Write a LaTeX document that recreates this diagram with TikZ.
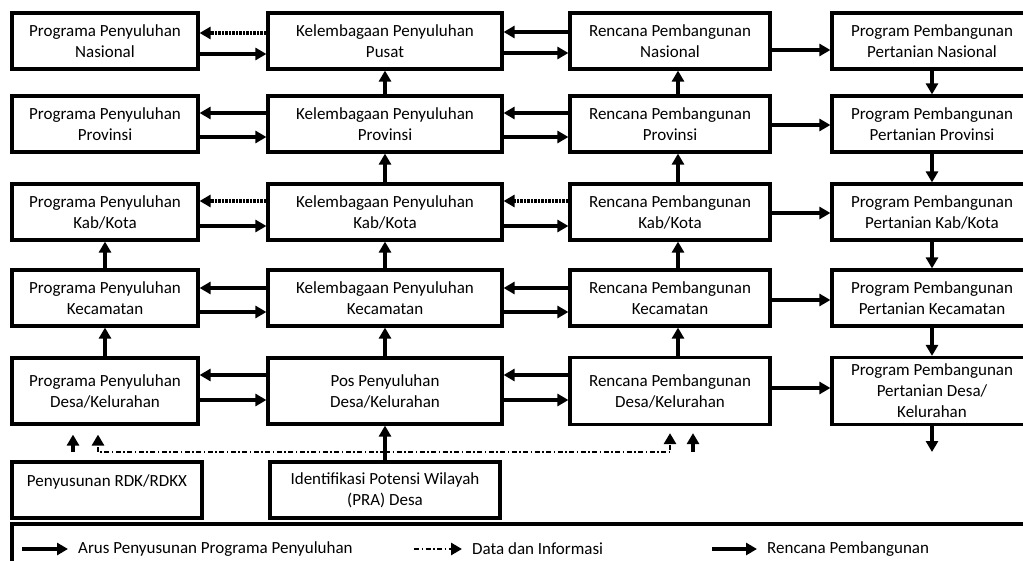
\documentclass[tikz,border=0pt]{standalone}
\usepackage{fontspec}
\setmainfont{Carlito}
\usetikzlibrary{arrows.meta}
\begin{document}
\begin{tikzpicture}[x=1pt, y=-1pt,
  >={Triangle[length=11pt,width=12pt]},
  every node/.style={font=\fontsize{17}{21}\selectfont},
  box/.style={draw, line width=3.2pt, align=center, inner sep=2pt, minimum width=#1, minimum height=56pt},
  flow/.style={->, line width=3.2pt},
  dotflow/.style={->, line width=3.2pt, dash pattern=on 2.5pt off 1pt},
  data/.style={->, line width=2.8pt, dash pattern=on 5pt off 2.5pt on 1.5pt off 2.5pt},
  legtext/.style={anchor=west, inner xsep=10pt}]
  \useasboundingbox (0,0) rectangle (1023,561);
  \clip (0,0) rectangle (1023,561);
	\node[box=186pt]	(pn)	at (105,41)		{Programa Penyuluhan\\Nasional};
	\node[box=186pt]	(pp)	at (105,124)	{Programa Penyuluhan\\Provinsi};
	\node[box=186pt]	(pk)	at (105,212)	{Programa Penyuluhan\\Kab/Kota};
	\node[box=186pt]	(pc)	at (105,298)	{Programa Penyuluhan\\Kecamatan};
	\node[box=186pt, minimum height=66pt]	(pd)	at (105,391)	{Programa Penyuluhan\\Desa/Kelurahan};
	\node[box=234pt]	(kn)	at (385,41)		{Kelembagaan Penyuluhan\\Pusat};
	\node[box=234pt]	(kp)	at (385,124)	{Kelembagaan Penyuluhan\\Provinsi};
	\node[box=234pt]	(kk)	at (385,212)	{Kelembagaan Penyuluhan\\Kab/Kota};
	\node[box=234pt]	(kc)	at (385,298)	{Kelembagaan Penyuluhan\\Kecamatan};
	\node[box=234pt, minimum height=66pt]	(pos)	at (385,391)	{Pos Penyuluhan\\Desa/Kelurahan};
	\node[box=200pt]	(rn)	at (670,41)		{Rencana Pembangunan\\Nasional};
	\node[box=200pt]	(rp)	at (670,124)	{Rencana Pembangunan\\Provinsi};
	\node[box=200pt]	(rk)	at (670,212)	{Rencana Pembangunan\\Kab/Kota};
	\node[box=200pt]	(rc)	at (670,298)	{Rencana Pembangunan\\Kecamatan};
	\node[box=200pt, minimum height=67pt]	(rd)	at (670,391)	{Rencana Pembangunan\\Desa/Kelurahan};
	\node[box=200pt]	(gn)	at (932,41)		{Program Pembangunan\\Pertanian Nasional};
	\node[box=200pt]	(gp)	at (932,124)	{Program Pembangunan\\Pertanian Provinsi};
	\node[box=200pt]	(gk)	at (932,212)	{Program Pembangunan\\Pertanian Kab/Kota};
	\node[box=200pt]	(gc)	at (932,298)	{Program Pembangunan\\Pertanian Kecamatan};
	\node[box=200pt, minimum height=67pt]	(gd)	at (932,391)	{Program Pembangunan\\Pertanian Desa/\\Kelurahan};
	\node[box=190pt, text depth=18pt]	(rdk)	at (107,490)	{Penyusunan RDK/RDKX};
	\node[box=230pt]	(ida)	at (385,490)	{Identifikasi Potensi Wilayah\\(PRA) Desa};
	% mendatar
	\draw[dotflow] (kn.west |- 0,33) -- (pn.east |- 0,33);
	\draw[flow] (pn.east |- 0,54) -- (kn.west |- 0,54);
	\draw[flow] (rn.west |- 0,32) -- (kn.east |- 0,32);
	\draw[flow] (kn.east |- 0,53) -- (rn.west |- 0,53);
	\draw[flow] (rn.east |- 0,50) -- (gn.west |- 0,50);
	\draw[flow] (kp.west |- 0,113) -- (pp.east |- 0,113);
	\draw[flow] (pp.east |- 0,137) -- (kp.west |- 0,137);
	\draw[flow] (rp.west |- 0,113) -- (kp.east |- 0,113);
	\draw[flow] (kp.east |- 0,137) -- (rp.west |- 0,137);
	\draw[flow] (rp.east |- 0,125) -- (gp.west |- 0,125);
	\draw[dotflow] (kk.west |- 0,201) -- (pk.east |- 0,201);
	\draw[flow] (pk.east |- 0,226) -- (kk.west |- 0,226);
	\draw[dotflow] (rk.west |- 0,201) -- (kk.east |- 0,201);
	\draw[flow] (kk.east |- 0,226) -- (rk.west |- 0,226);
	\draw[flow] (rk.east |- 0,213) -- (gk.west |- 0,213);
	\draw[flow] (kc.west |- 0,288) -- (pc.east |- 0,288);
	\draw[flow] (pc.east |- 0,312) -- (kc.west |- 0,312);
	\draw[flow] (rc.west |- 0,288) -- (kc.east |- 0,288);
	\draw[flow] (kc.east |- 0,312) -- (rc.west |- 0,312);
	\draw[flow] (rc.east |- 0,300) -- (gc.west |- 0,300);
	\draw[flow] (pos.west |- 0,375) -- (pd.east |- 0,375);
	\draw[flow] (pd.east |- 0,400) -- (pos.west |- 0,400);
	\draw[flow] (rd.west |- 0,375) -- (pos.east |- 0,375);
	\draw[flow] (pos.east |- 0,400) -- (rd.west |- 0,400);
	\draw[flow] (rd.east |- 0,388) -- (gd.west |- 0,388);
	% tegak
	\draw[flow] (pc.north) -- (pk.south);
	\draw[flow] (pd.north) -- (pc.south);
	\draw[flow] (kp.north) -- (kn.south);
	\draw[flow] (kk.north) -- (kp.south);
	\draw[flow] (kc.north) -- (kk.south);
	\draw[flow] (pos.north) -- (kc.south);
	\draw[flow] (rp.north -| 678,0) -- (rn.south -| 678,0);
	\draw[flow] (rk.north -| 678,0) -- (rp.south -| 678,0);
	\draw[flow] (rc.north -| 678,0) -- (rk.south -| 678,0);
	\draw[flow] (rd.north -| 678,0) -- (rc.south -| 678,0);
	\draw[flow] (gn.south) -- (gp.north);
	\draw[flow] (gp.south) -- (gk.north);
	\draw[flow] (gk.south) -- (gc.north);
	\draw[flow] (gc.south) -- (gd.north);
	\coordinate (ge) at (932,452);
	\draw[flow] (gd.south) -- (ge);
	% data dan informasi
	\draw[flow] (ida.north) -- (pos.south);
	\coordinate (split) at (385,452);
	\draw[data, shorten >=9pt] (split) -| (pd.south -| 98,0);
	\draw[data, shorten >=7pt] (split) -| (rd.south -| 670,0);
	\coordinate (u1) at (73,452);
	\coordinate (u2) at (693,452);
	\draw[flow, shorten >=9pt] (u1) -- (pd.south -| u1);
	\draw[flow, shorten >=7pt] (u2) -- (rd.south -| u2);
	% keterangan
	\draw[line width=3.2pt] (12,524) rectangle (1040,590);
	\coordinate (l1) at (22,549);
	\node[legtext]	(t1)	at (68,549)		{Arus Penyusunan Programa Penyuluhan};
	\draw[flow] (l1) -- (t1.west);
	\coordinate (l2) at (414,549);
	\node[legtext]	(t2)	at (462,549)	{Data dan Informasi};
	\draw[data] (l2) -- (t2.west);
	\coordinate (l3) at (712,549);
	\node[legtext]	(t3)	at (757,549)	{Rencana Pembangunan};
	\draw[flow] (l3) -- (t3.west);
\end{tikzpicture}
\end{document}
